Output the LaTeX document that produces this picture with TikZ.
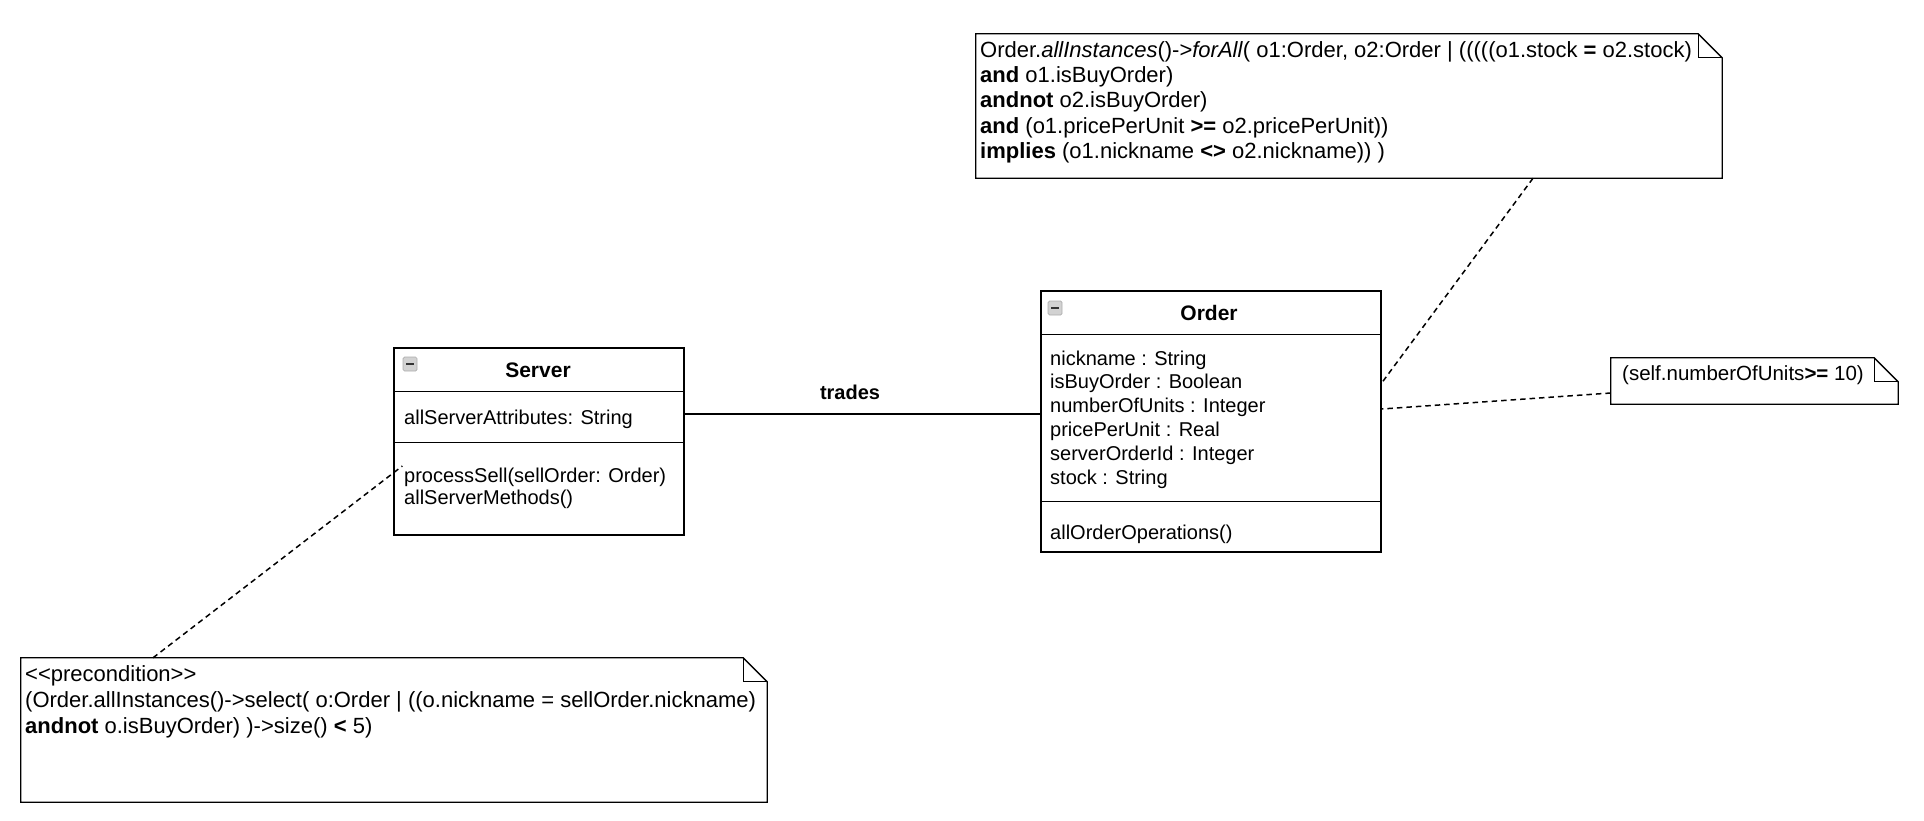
\documentclass[tikz,border=0pt]{standalone}
\usepackage{fontspec}
\setmainfont{Liberation Sans}[Ligatures=TeXOff]

\tikzset{
  umlbox/.style={draw, line width=1.3pt, inner sep=0pt},
  notebox/.style={inner sep=0pt},
  noteline/.style={line width=1.3pt, line join=miter},
  member/.style={anchor=base west, inner sep=0pt, font=\fontsize{20}{24}\selectfont},
  classname/.style={inner sep=0pt, font=\bfseries\fontsize{21}{25}\selectfont},
  ocl/.style={anchor=base west, inner sep=0pt, font=\fontsize{22}{26}\selectfont},
  anchorline/.style={line width=1.5pt, dash pattern=on 5.5pt off 4pt},
  minusicon/.style={draw=gray!65, fill=gray!35, rounded corners=1.5pt, minimum size=14pt,
    inner sep=0pt, line width=0.7pt,
    path picture={\draw[line width=2pt, black!80] ([xshift=3pt]path picture bounding box.west)
      -- ([xshift=-3pt]path picture bounding box.east);}},
}

\newcommand{\dogear}[1]{%
  \draw[noteline] (#1.north west) -- ([xshift=-24pt]#1.north east) -- ([yshift=-24pt]#1.north east)
    -- (#1.south east) -- (#1.south west) -- cycle;
  \draw[noteline] ([xshift=-24pt]#1.north east) |- ([yshift=-24pt]#1.north east);
}

\begin{document}
\begin{tikzpicture}[x=1pt,y=-1pt]
  \useasboundingbox (0,0) rectangle (1924,820);

  % Server class
  \node[umlbox, minimum width=290pt, minimum height=187pt] (server) at (539,441.5) {};
  \draw[line width=1.3pt] ([yshift=-44pt]server.north west) -- ([yshift=-44pt]server.north east);
  \draw[line width=1.3pt] ([yshift=-95pt]server.north west) -- ([yshift=-95pt]server.north east);
  \node[minusicon] (servericon) at (410,364) {};
  \node[classname] (servername) at (538,370) {Server};
  \node[member] (serverattr) at (404,424) {allServerAttributes: String};
  \node[member] (serverop1) at (404,482) {processSell(sellOrder: Order)};
  \node[member] (serverop2) at (404,504) {allServerMethods()};

  % Order class
  \node[umlbox, minimum width=340pt, minimum height=261pt] (order) at (1211,421.5) {};
  \draw[line width=1.3pt] ([yshift=-44pt]order.north west) -- ([yshift=-44pt]order.north east);
  \draw[line width=1.3pt] ([yshift=-211pt]order.north west) -- ([yshift=-211pt]order.north east);
  \node[minusicon] (ordericon) at (1055,308) {};
  \node[classname] (ordername) at (1209,313) {Order};
  \node[member] (attr1) at (1050,365) {nickname : String};
  \node[member] (attr2) at (1050,388.8) {isBuyOrder : Boolean};
  \node[member] (attr3) at (1050,412.6) {numberOfUnits : Integer};
  \node[member] (attr4) at (1050,436.4) {pricePerUnit : Real};
  \node[member] (attr5) at (1050,460.2) {serverOrderId : Integer};
  \node[member] (attr6) at (1050,484) {stock : String};
  \node[member] (orderop) at (1050,539) {allOrderOperations()};

  % association
  \draw[line width=1.3pt] ([yshift=27.5pt]server.east) -- node[pos=0.465, anchor=base, yshift=15pt,
    inner sep=0pt, font=\bfseries\fontsize{20}{24}\selectfont] (trades) {trades} ([yshift=7.5pt]order.west);

  % invariant note
  \node[notebox, minimum width=746pt, minimum height=144pt] (forall) at (1349,106) {};
  \dogear{forall}
  \node[ocl] (forall1) at (980,57) {Order.\textit{allInstances}()->\textit{forAll}( o1:Order, o2:Order | (((((o1.stock \textbf{=} o2.stock)};
  \node[ocl] (forall2) at (980,82) {\textbf{and} o1.isBuyOrder)};
  \node[ocl] (forall3) at (980,107.5) {\textbf{andnot} o2.isBuyOrder)};
  \node[ocl] (forall4) at (980,133) {\textbf{and} (o1.pricePerUnit \textbf{>=} o2.pricePerUnit))};
  \node[ocl] (forall5) at (980,158) {\textbf{implies} (o1.nickname \textbf{<>} o2.nickname)) )};

  % attribute constraint note
  \node[notebox, minimum width=287pt, minimum height=46pt] (units) at (1754.5,381) {};
  \dogear{units}
  \node[member, font=\fontsize{20.5}{24}\selectfont] (units1) at (1622,380) {(self.numberOfUnits\textbf{>=} 10)};

  % precondition note
  \node[notebox, minimum width=746pt, minimum height=144pt] (precond) at (394,730) {};
  \dogear{precond}
  \node[ocl] (precond1) at (25,681) {<<precondition>>};
  \node[ocl] (precond2) at (25,707) {(Order.allInstances()->select( o:Order | ((o.nickname = sellOrder.nickname)};
  \node[ocl] (precond3) at (25,733) {\textbf{andnot} o.isBuyOrder) )->size() \textbf{<} 5)};

  % note anchors
  \draw[anchorline] ([xshift=184pt]forall.south) -- ([yshift=38.5pt]order.east);
  \draw[anchorline] ([yshift=-12pt]units.west) -- ([yshift=12.5pt]order.east);
  \draw[anchorline] ([xshift=-241pt]precond.north) -- ([xshift=9pt,yshift=-24.5pt]server.west);
\end{tikzpicture}
\end{document}
